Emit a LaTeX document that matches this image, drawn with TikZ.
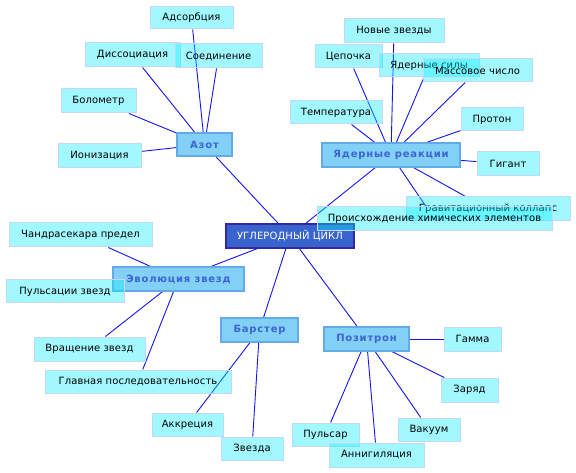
\documentclass[tikz,border=0pt]{standalone}
\usepackage{fontspec}
\setmainfont{DejaVu Sans}[LetterSpace=1]
\newfontfamily\catfont{DejaVu Sans Bold}[LetterSpace=8]
\usetikzlibrary{backgrounds}
\definecolor{rootfill}{RGB}{58,100,205}
\definecolor{rootdraw}{RGB}{50,40,160}
\definecolor{catfill}{RGB}{130,208,245}
\definecolor{catdraw}{RGB}{100,170,235}
\definecolor{cattext}{RGB}{60,100,210}
\definecolor{leaffill}{RGB}{10,240,255}
\definecolor{leafdraw}{RGB}{195,215,250}
\definecolor{edgecol}{RGB}{20,20,240}
\tikzset{
  box/.style={rectangle, inner sep=0pt, align=center, font=\fontsize{10}{12}\selectfont},
  rootbox/.style={box, fill=rootfill, draw=rootdraw, line width=1.2pt, text=white},
  catbox/.style={box, fill=catfill, draw=catdraw, line width=1.2pt, text=cattext, font=\fontsize{10}{12}\catfont},
  leafbox/.style={box, fill=leaffill, fill opacity=0.38, text opacity=1, draw=leafdraw, line width=1pt, text=black},
  link/.style={draw=edgecol, line width=0.9pt}
}
\newcommand{\bx}[6]{\node[#1, minimum width=#4pt, minimum height=#5pt] (#2) at (#3) {#6};}
\begin{document}
\begin{tikzpicture}[x=1pt,y=-1pt]
\useasboundingbox (0,0) rectangle (576,473);
% root
\bx{rootbox}{root}{290,236}{128}{24}{УГЛЕРОДНЫЙ ЦИКЛ}
% categories
\bx{catbox}{azot}{204.5,144.5}{55}{23}{Азот}
\bx{catbox}{yad}{391,155}{138}{24}{Ядерные реакции}
\bx{catbox}{evol}{178.5,279}{131}{24}{Эволюция звезд}
\bx{catbox}{bar}{259.5,330}{77}{24}{Барстер}
\bx{catbox}{poz}{366.5,339}{85}{24}{Позитрон}
% leaves
\bx{leafbox}{adsorb}{191.5,18}{83}{22}{Адсорбция}
\bx{leafbox}{dissoc}{132.5,55}{95}{24}{Диссоциация}
\bx{leafbox}{soed}{218.5,56}{87}{24}{Соединение}
\bx{leafbox}{bolom}{98.5,101}{75}{24}{Болометр}
\bx{leafbox}{ioniz}{99.5,156}{83}{24}{Ионизация}
\bx{leafbox}{novye}{394,31}{100}{24}{Новые звезды}
\bx{leafbox}{cepoch}{348.5,56.5}{67}{23}{Цепочка}
\bx{leafbox}{sily}{429,65.5}{100}{23}{Ядерные силы}
\bx{leafbox}{massa}{477.5,70.5}{109}{23}{Массовое число}
\bx{leafbox}{temp}{336,112.5}{92}{23}{Температура}
\bx{leafbox}{proton}{492,119.5}{62}{23}{Протон}
\bx{leafbox}{gigant}{508,164}{62}{24}{Гигант}
\bx{leafbox}{grav}{488,209}{164}{24}{Гравитационный коллапс}
\bx{leafbox}{proish}{434.5,219}{235}{24}{Происхождение химических элементов}
\bx{leafbox}{chandra}{80.5,235}{143}{24}{Чандрасекара предел}
\bx{leafbox}{puls}{65,291.5}{118}{23}{Пульсации звезд}
\bx{leafbox}{vrash}{89.5,349}{111}{24}{Вращение звезд}
\bx{leafbox}{glav}{138,381.5}{186}{23}{Главная последовательность}
\bx{leafbox}{akkr}{187.5,424.5}{71}{23}{Аккреция}
\bx{leafbox}{zvezda}{252,448.5}{62}{23}{Звезда}
\bx{leafbox}{gamma}{472.5,339}{57}{24}{Гамма}
\bx{leafbox}{zaryad}{469.5,390}{57}{24}{Заряд}
\bx{leafbox}{vakuum}{429,429.5}{62}{23}{Вакуум}
\bx{leafbox}{pulsar}{325.5,434.5}{67}{23}{Пульсар}
\bx{leafbox}{annig}{376.5,455}{95}{24}{Аннигиляция}
% connectors
\begin{scope}[on background layer]
\fill[white] (0,0) rectangle (576,473);
\foreach \a/\b in {root/azot, root/yad, root/evol, root/bar, root/poz,
  azot/adsorb, azot/dissoc, azot/soed, azot/bolom, azot/ioniz,
  yad/novye, yad/cepoch, yad/sily, yad/massa, yad/temp, yad/proton, yad/gigant, yad/grav, yad/proish,
  evol/chandra, evol/vrash, evol/glav,
  bar/akkr, bar/zvezda,
  poz/gamma, poz/zaryad, poz/vakuum, poz/pulsar, poz/annig}
  \draw[link] (\a) -- (\b);
\end{scope}
\end{tikzpicture}
\end{document}
